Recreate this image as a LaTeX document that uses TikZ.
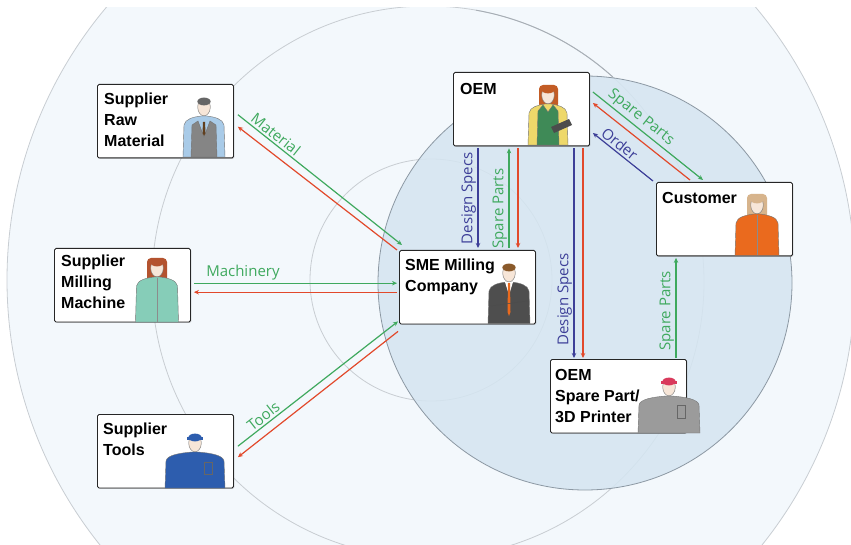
\documentclass[tikz,border=0pt]{standalone}
\usepackage{fontspec}
\setmainfont{Liberation Sans}
\newfontfamily\flowfont{Open Sans}
\usetikzlibrary{arrows.meta,shadows}

\definecolor{ringfill}{HTML}{F3F8FC}
\definecolor{ringline}{HTML}{C8CDD2}
\definecolor{ringdark}{HTML}{A7AEB5}
\definecolor{discfill}{HTML}{D5E5F1}
\definecolor{discline}{HTML}{8C98A3}
\definecolor{flowgreen}{HTML}{3FA95E}
\definecolor{flowred}{HTML}{E2492B}
\definecolor{flowblue}{HTML}{3D3F98}
\definecolor{skin}{HTML}{F7E6D8}
\definecolor{shirtblue}{HTML}{A9CBE8}
\definecolor{vestgray}{HTML}{858585}
\definecolor{teal}{HTML}{86CDB8}
\definecolor{workblue}{HTML}{2D5DAE}
\definecolor{suit}{HTML}{4E4E4E}
\definecolor{dressgreen}{HTML}{3F8A57}
\definecolor{sleeve}{HTML}{EED86A}
\definecolor{shirtorange}{HTML}{EA6A1E}
\definecolor{workgray}{HTML}{9B9B9B}
\definecolor{capred}{HTML}{D93A5C}
\definecolor{hairred}{HTML}{B4532F}
\definecolor{hairblond}{HTML}{D7B48C}
\definecolor{hairbrown}{HTML}{8A5A2B}

% head, neck and shoulders of a person standing in a box
% #1,#2 head centre, #3 bottom edge, #4 half shoulder width, #5 clothes, #6 hair
\newcommand{\bust}[6]{%
  \begin{scope}[shift={(#1,#2)}]
    \pgfmathsetmacro{\bustlow}{#3-#2}
    \filldraw[fill=#5, draw=black!55, line width=.4pt]
      (-#4,\bustlow) -- ({1-#4},18) .. controls ({2-#4},12) and ({-#4/2},10) .. (-3,9)
      -- (3,9) .. controls ({#4/2},10) and ({#4-2},12) .. ({#4-1},18) -- (#4,\bustlow) -- cycle;
    \filldraw[fill=skin, draw=black!55, line width=.4pt] (0,0) ellipse (6.3 and 8.8);
    \fill[#6] (0,-5.5) ellipse (6.6 and 3.9);
  \end{scope}}

\begin{document}
\begin{tikzpicture}[x=1pt, y=-1pt,
  actor/.style={draw=black!85, line width=.9pt, fill=white, rounded corners=1.5pt,
    minimum width=136pt, minimum height=73.5pt, anchor=north west, inner sep=0pt,
    drop shadow={shadow xshift=.9pt, shadow yshift=-.9pt, opacity=.4}},
  actortext/.style={anchor=north west, inner sep=0pt, align=left,
    font=\bfseries\fontsize{16}{21}\selectfont},
  flow/.style={line width=1.2pt, -{Stealth[length=5pt,width=4.5pt]}},
  gflow/.style={flow, flowgreen},
  rflow/.style={flow, flowred},
  bflow/.style={flow, flowblue},
  flowlabel/.style={font=\flowfont\fontsize{15}{17}\selectfont, inner sep=2pt},
  uplabel/.style={flowlabel, rotate=90, anchor=south, inner sep=1.5pt}]

\useasboundingbox (0,0) rectangle (851,545);

% rings round the milling company and the OEM disc
\begin{scope}
  \clip (0,8) rectangle (851,545);
  \fill[ringfill] (431,280) circle (424);
  \draw[ringline, line width=.8pt] (431,280) circle (424);
  \draw[ringline, line width=.8pt] (428,282) circle (276);
  \draw[ringline, line width=.8pt] (431,280) circle (121);
  \draw[ringdark, line width=.9pt] (428,282) ++(-80:276) arc[start angle=-80, end angle=-48, radius=276];
  \fill[discfill, fill opacity=.85] (585,283) circle (207);
  \draw[discline, line width=.8pt] (585,283) circle (207);
\end{scope}

% actors
\node[actor] (raw) at (97,84) {};
\node[actor] (mill) at (54,248) {};
\node[actor] (tools) at (97,414) {};
\node[actor] (sme) at (399,250) {};
\node[actor] (oem) at (453,72) {};
\node[actor] (cust) at (656,182) {};
\node[actor] (print) at (550,359) {};

% people
\bust{204}{107}{157}{21}{shirtblue}{black!60}
\fill[vestgray, draw=black!55, line width=.4pt] (191,157) -- (192,125) -- (198,121) -- (204,137)
  -- (210,121) -- (216,125) -- (217,157) -- cycle;
\fill[hairbrown!70!black] (203,122) -- (205,122) -- (205.5,133) -- (204,136) -- (202.5,133) -- cycle;

\fill[hairred, rounded corners=4pt] (147,258) rectangle (167,292);
\bust{157}{268}{322}{21.5}{teal}{hairred}
\draw[black!45, line width=.4pt] (157,278) -- (157,322);

\bust{195}{443}{488}{30}{workblue}{workblue}
\fill[workblue] (187,437) rectangle (203,440);
\draw[black!60, line width=.4pt] (204,462) rectangle (212,474);

\bust{509}{273}{323.5}{21}{suit}{hairbrown}
\fill[white] (505,282) -- (509,295) -- (513,282) -- cycle;
\fill[shirtorange] (508,283) -- (510,283) -- (510.5,312) -- (509,316) -- (507.5,312) -- cycle;
\draw[black!70, line width=.5pt] (491,306) -- (527,301);

\fill[hairred!80!orange, rounded corners=4pt] (539,85) rectangle (558,108);
\bust{548}{95}{145}{20}{sleeve}{hairred!80!orange}
\fill[dressgreen, draw=black!55, line width=.4pt] (537,145) -- (538,111) -- (543,105) -- (548,112)
  -- (553,105) -- (558,111) -- (559,145) -- cycle;
\fill[black!70] (551,127) -- (569,119) -- (572,125) -- (554,133) -- cycle;

\fill[hairblond, rounded corners=4pt] (747,194) rectangle (767,225);
\bust{757}{205}{255.5}{22}{shirtorange}{hairblond}
\draw[black!45, line width=.4pt] (757,215) -- (757,255);

\bust{669}{387}{433}{31}{workgray}{capred}
\fill[capred] (661,381) rectangle (677,384);
\draw[black!60, line width=.4pt] (677,405) rectangle (685,418);

% names
\node[actortext] (raw-t) at ([xshift=7pt,yshift=-9pt]raw.north west) {Supplier\\Raw\\Material};
\node[actortext] (mill-t) at ([xshift=7pt,yshift=-7pt]mill.north west) {Supplier\\Milling\\Machine};
\node[actortext] (tools-t) at ([xshift=6pt,yshift=-9pt]tools.north west) {Supplier\\Tools};
\node[actortext] (sme-t) at ([xshift=6pt,yshift=-9pt]sme.north west) {SME Milling\\Company};
\node[actortext] (oem-t) at ([xshift=7pt,yshift=-11pt]oem.north west) {OEM};
\node[actortext] (cust-t) at ([xshift=6pt,yshift=-10pt]cust.north west) {Customer};
\node[actortext] (print-t) at ([xshift=5pt,yshift=-10pt]print.north west) {OEM\\Spare Part/\\3D Printer};

% suppliers and milling company
\draw[gflow] ([xshift=4pt,yshift=6.5pt]raw.east) -- ([xshift=3pt,yshift=5pt]sme.north west)
  node[flowlabel, pos=.2, sloped, above] (mat-l) {Material};
\draw[rflow] ([xshift=-2pt]sme.north west) -- ([xshift=4pt,yshift=-5.5pt]raw.east);

\coordinate (mach-a) at ([yshift=2pt]mill.east);
\coordinate (mach-b) at ([yshift=-7pt]mill.east);
\draw[gflow, shorten <=3pt, shorten >=2pt] (mach-a) -- (mach-a -| sme.west)
  node[flowlabel, pos=.25, above] (mach-l) {Machinery};
\draw[rflow, shorten <=2pt, shorten >=3pt] (mach-b -| sme.west) -- (mach-b);

\draw[gflow] ([xshift=4pt,yshift=5pt]tools.east) -- ([xshift=-1pt,yshift=3pt]sme.south west)
  node[flowlabel, pos=.19, sloped, above] (tool-l) {Tools};
\draw[rflow] ([xshift=-1pt,yshift=-7pt]sme.south west) -- ([xshift=4pt,yshift=-6pt]tools.east);

% OEM and milling company
\coordinate (oem-a) at ([xshift=25pt]oem.south west);
\coordinate (oem-b) at ([xshift=56pt]oem.south west);
\coordinate (oem-c) at ([xshift=65pt]oem.south west);
\draw[bflow, shorten <=2pt, shorten >=2pt] (oem-a) -- (oem-a |- sme.north)
  node[uplabel, midway] (spec-l) {Design Specs};
\draw[gflow, shorten <=2pt, shorten >=2pt] (oem-b |- sme.north) -- (oem-b)
  node[uplabel, pos=.4] (part-l) {Spare Parts};
\draw[rflow, shorten <=2pt, shorten >=2pt] (oem-c) -- (oem-c |- sme.north);

% OEM, printer and customer
\coordinate (oem-d) at ([xshift=121pt]oem.south west);
\coordinate (oem-e) at ([xshift=130pt]oem.south west);
\coordinate (cust-a) at ([xshift=20pt]cust.south west);
\draw[bflow, shorten <=2pt, shorten >=1pt] (oem-d) -- (oem-d |- print.north)
  node[uplabel, pos=.72] (spec2-l) {Design Specs};
\draw[rflow, shorten <=2pt, shorten >=1pt] (oem-e) -- (oem-e |- print.north);
\draw[gflow, shorten <=1pt, shorten >=1.5pt] (cust-a |- print.north) -- (cust-a)
  node[uplabel, pos=.47] (part2-l) {Spare Parts};

\draw[gflow] ([xshift=3pt,yshift=-20pt]oem.north east) -- ([xshift=47pt,yshift=2pt]cust.north west)
  node[flowlabel, pos=.38, sloped, above] (part3-l) {Spare Parts};
\draw[rflow] ([xshift=34pt,yshift=2pt]cust.north west) -- ([xshift=3pt,yshift=-31pt]oem.north east);
\draw[bflow] ([xshift=-3pt,yshift=1pt]cust.north west) -- ([xshift=3pt,yshift=-61pt]oem.north east)
  node[flowlabel, pos=.64, sloped, above] (ord-l) {Order};

\end{tikzpicture}
\end{document}
